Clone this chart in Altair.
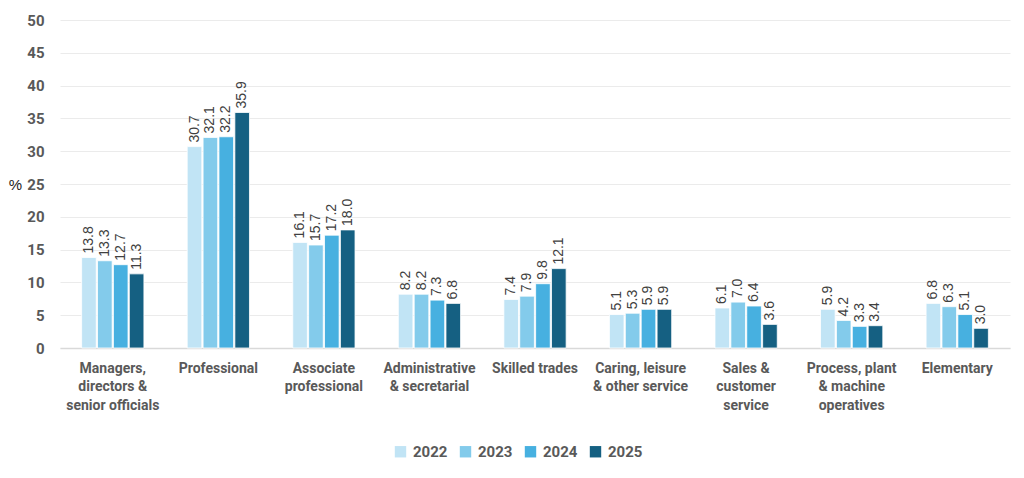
import json
import altair as alt
import pandas as pd

categories = [
    "Managers, directors & senior officials",
    "Professional",
    "Associate professional",
    "Administrative & secretarial",
    "Skilled trades",
    "Caring, leisure & other service",
    "Sales & customer service",
    "Process, plant & machine operatives",
    "Elementary",
]
label_lines = [
    ["Managers,", "directors &", "senior officials"],
    ["Professional"],
    ["Associate", "professional"],
    ["Administrative", "& secretarial"],
    ["Skilled trades"],
    ["Caring, leisure", "& other service"],
    ["Sales &", "customer", "service"],
    ["Process, plant", "& machine", "operatives"],
    ["Elementary"],
]
years = ["2022", "2023", "2024", "2025"]
v2022 = [13.8, 30.7, 16.1, 8.2, 7.4, 5.1, 6.1, 5.9, 6.8]
v2023 = [13.3, 32.1, 15.7, 8.2, 7.9, 5.3, 7.0, 4.2, 6.3]
v2024 = [12.7, 32.2, 17.2, 7.3, 9.8, 5.9, 6.4, 3.3, 5.1]
v2025 = [11.3, 35.9, 18.0, 6.8, 12.1, 5.9, 3.6, 3.4, 3.0]
colors = ["#C1E4F5", "#83CBEB", "#47B0E0", "#156082"]

rows = []
for yr, vals in zip(years, [v2022, v2023, v2024, v2025]):
    for c, v in zip(categories, vals):
        rows.append({"category": c, "year": yr, "value": v})
df = pd.DataFrame(rows)

label_map = json.dumps(dict(zip(categories, label_lines)))

x = alt.X(
    "category:N",
    sort=categories,
    scale=alt.Scale(paddingInner=0.41, paddingOuter=0.205),
    axis=alt.Axis(
        title=None,
        labelAngle=0,
        labelExpr=f"{label_map}[datum.label]",
        labelFont="Roboto",
        labelFontWeight="bold",
        labelFontSize=14,
        labelColor="#595959",
        labelLineHeight=18.5,
        labelPadding=13,
        labelBaseline="top",
        ticks=False,
        domainColor="#D9D9D9",
        domainWidth=1.5,
        labelLimit=200,
    ),
)
y = alt.Y(
    "value:Q",
    scale=alt.Scale(domain=[0, 50]),
    axis=alt.Axis(
        values=list(range(0, 55, 5)),
        title="%",
        titleAngle=0,
        titleX=-45,
        titleY=164,
        titleBaseline="middle",
        titleAlign="center",
        titleFont="Liberation Sans",
        titleFontSize=15,
        titleFontWeight="normal",
        titleColor="#222222",
        labelFont="Roboto",
        labelFontWeight="bold",
        labelFontSize=15,
        labelColor="#595959",
        labelPadding=16,
        ticks=False,
        domain=False,
        gridColor="#EBEBEB",
        gridWidth=1,
    ),
)

base = alt.Chart(df).encode(
    x=x,
    y=y,
    xOffset=alt.XOffset("year:N", sort=years, scale=alt.Scale(paddingInner=0.08)),
)

bars = base.mark_bar(stroke="white", strokeWidth=0.8).encode(
    color=alt.Color(
        "year:N",
        sort=years,
        scale=alt.Scale(domain=years, range=colors),
        legend=alt.Legend(
            title=None,
            orient="none",
            direction="horizontal",
            legendX=333,
            legendY=424,
            symbolType="square",
            symbolSize=130,
            symbolStrokeWidth=0,
            labelFont="Roboto",
            labelFontWeight="bold",
            labelFontSize=15,
            labelColor="#595959",
            columnPadding=10,
            labelOffset=5,
        ),
    )
)

texts = base.mark_text(
    angle=270,
    align="left",
    baseline="middle",
    dx=4,
    font="Liberation Sans",
    fontSize=14,
    color="#404040",
).encode(text=alt.Text("value:Q", format=".1f"))

chart = (
    alt.layer(bars, texts)
    .properties(
        width=950,
        height=328,
        autosize=alt.AutoSizeParams(type="none"),
        padding={"left": 52, "top": 12, "right": 6, "bottom": 118},
        background="white",
    )
    .configure_view(stroke=None)
)

chart.save("out.html", embed_options={"renderer": "svg", "actions": False})
